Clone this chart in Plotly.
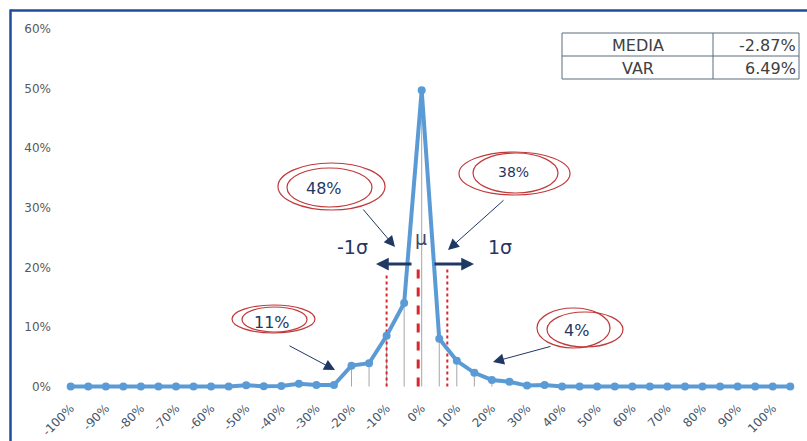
import plotly.graph_objects as go

# Return buckets (%) and share of observations in each bucket (%)
buckets = [-100, -95, -90, -85, -80, -75, -70, -65, -60, -55,
           -50, -45, -40, -35, -30, -25, -20, -15, -10, -5,
           0,
           5, 10, 15, 20, 25, 30, 35,
           40, 45, 50, 55, 60, 65, 70, 75, 80, 85, 90, 95, 100, 105]
share = [0, 0, 0, 0, 0, 0, 0, 0, 0, 0,
         0.2, 0.05, 0.1, 0.45, 0.25, 0.25, 3.5, 3.9, 8.5, 14.0,
         49.7,
         8.0, 4.3, 2.3, 1.1, 0.8, 0.15, 0.25,
         0, 0, 0, 0, 0, 0, 0, 0, 0, 0, 0, 0, 0, 0]

x_ticks = [-100, -90, -80, -70, -60, -50, -40, -30, -20, -10,
           0, 10, 20, 30, 40, 50, 60, 70, 80, 90, 100]
y_ticks = [0, 10, 20, 30, 40, 50, 60]

# Buckets around the centre that get a vertical drop line
drop_buckets = [-20, -15, -10, -5, 0, 5, 10, 15, 20]

# Reference lines: mean and one-sigma bounds
mu_x, mu_top = -1.0, 20.8
sig_lo_x, sig_lo_top = -10.0, 19.0
sig_hi_x, sig_hi_top = 7.3, 19.8

stats_labels = ["MEDIA", "VAR"]
stats_values = ["-2.87%", "6.49%"]

W, H = 807, 441
ML, MR, MT, MB = 55, 6, 17, 43
PW, PH = W - ML - MR, H - MT - MB
X_RANGE = [-104.47, 108.06]
Y_RANGE = [-1.93, 62.0]


def px_x(p):
    return (p - ML) / PW


def px_y(p):
    return (H - MB - p) / PH


def dx(p):
    return X_RANGE[0] + (p - ML) / PW * (X_RANGE[1] - X_RANGE[0])


def dy(p):
    return Y_RANGE[1] - (p - MT) / PH * (Y_RANGE[1] - Y_RANGE[0])


BLUE = "#5b9bd5"
NAVY = "#1f3864"
RED = "#d9262c"
ELL = "#c0393b"
FONT = "DejaVu Sans"

fig = go.Figure()

# thin grey drop lines from the central points to the axis
lookup = dict(zip(buckets, share))
dl_x, dl_y = [], []
for b in drop_buckets:
    dl_x += [b, b, None]
    dl_y += [0, lookup[b], None]
fig.add_trace(go.Scatter(x=dl_x, y=dl_y, mode="lines",
                         line=dict(color="#a6a6a6", width=1),
                         hoverinfo="skip", showlegend=False))

# mean (dashed) and sigma bounds (dotted)
fig.add_trace(go.Scatter(x=[mu_x, mu_x], y=[0, mu_top], mode="lines",
                         line=dict(color=RED, width=3, dash="dash"),
                         hoverinfo="skip", showlegend=False))
for sx, st in [(sig_lo_x, sig_lo_top), (sig_hi_x, sig_hi_top)]:
    fig.add_trace(go.Scatter(x=[sx, sx], y=[0, st], mode="lines",
                             line=dict(color=RED, width=2, dash="dot"),
                             hoverinfo="skip", showlegend=False))

# distribution line
fig.add_trace(go.Scatter(x=buckets, y=share, mode="lines+markers",
                         line=dict(color=BLUE, width=4),
                         marker=dict(color=BLUE, size=8),
                         showlegend=False))

shapes = []
annotations = []

# frame on the top and left edges
shapes.append(dict(type="line", xref="paper", yref="paper",
                   x0=px_x(10), x1=px_x(W + 2), y0=px_y(10.5), y1=px_y(10.5),
                   line=dict(color="#1f4e99", width=2.5)))
shapes.append(dict(type="line", xref="paper", yref="paper",
                   x0=px_x(10.5), x1=px_x(10.5), y0=px_y(9.5), y1=px_y(H + 2),
                   line=dict(color="#1f4e99", width=2.5)))

# stats table
tb_l, tb_m, tb_r = 562, 713, 799
tb_rows = [33, 56, 79]
shapes.append(dict(type="rect", xref="paper", yref="paper",
                   x0=px_x(tb_l), x1=px_x(tb_r), y0=px_y(tb_rows[0]), y1=px_y(tb_rows[-1]),
                   line=dict(color="#5a6b7e", width=1)))
shapes.append(dict(type="line", xref="paper", yref="paper",
                   x0=px_x(tb_l), x1=px_x(tb_r), y0=px_y(tb_rows[1]), y1=px_y(tb_rows[1]),
                   line=dict(color="#5a6b7e", width=1)))
shapes.append(dict(type="line", xref="paper", yref="paper",
                   x0=px_x(tb_m), x1=px_x(tb_m), y0=px_y(tb_rows[0]), y1=px_y(tb_rows[-1]),
                   line=dict(color="#5a6b7e", width=1)))
for i, (lab, val) in enumerate(zip(stats_labels, stats_values)):
    yc = px_y((tb_rows[i] + tb_rows[i + 1]) / 2 + 0.5)
    annotations.append(dict(xref="paper", yref="paper", x=px_x((tb_l + tb_m) / 2), y=yc,
                            text=lab, showarrow=False, xanchor="center", yanchor="middle",
                            font=dict(family=FONT, size=16, color="#404040")))
    annotations.append(dict(xref="paper", yref="paper", x=px_x(tb_r - 1), y=yc,
                            text=val, showarrow=False, xanchor="right", yanchor="middle",
                            font=dict(family=FONT, size=16, color="#404040")))

# callout ellipses (two offset rings each), with label and pointer arrow
callouts = [
    # text, text pos, ring 1 box, ring 2 box, arrow tail, arrow head, font size
    ("48%", (324, 188), (278, 385, 163, 210), (287, 372, 168, 207), (362, 208), (395, 247), 16),
    ("38%", (513, 172), (459, 570, 152, 195), (473, 558, 153, 193), (505, 199), (448, 250), 14),
    ("11%", (272, 322), (232, 315, 305, 333), (242, 307, 307, 332), (288, 345), (335, 370), 16),
    ("4%", (576, 330), (537, 610, 308, 348), (547, 623, 312, 347), (552, 346), (493, 362), 16),
]
for text, (tx, ty), r1, r2, tail, head, fs in callouts:
    for (x0, x1, y0, y1) in (r1, r2):
        shapes.append(dict(type="circle", xref="paper", yref="paper",
                           x0=px_x(x0), x1=px_x(x1), y0=px_y(y1), y1=px_y(y0),
                           line=dict(color=ELL, width=1.2)))
    annotations.append(dict(xref="paper", yref="paper", x=px_x(tx), y=px_y(ty),
                            text=text, showarrow=False, xanchor="center", yanchor="middle",
                            font=dict(family=FONT, size=fs, color=NAVY)))
    annotations.append(dict(xref="x", yref="y", axref="x", ayref="y",
                            x=dx(head[0]), y=dy(head[1]), ax=dx(tail[0]), ay=dy(tail[1]),
                            text="", showarrow=True, arrowhead=2, arrowsize=2.2,
                            arrowwidth=1, arrowcolor=NAVY))

# thick horizontal sigma arrows
for tail, head in [((413, 264), (376, 264)), ((433, 264), (474, 264))]:
    annotations.append(dict(xref="x", yref="y", axref="x", ayref="y",
                            x=dx(head[0]), y=dy(head[1]), ax=dx(tail[0]), ay=dy(tail[1]),
                            text="", showarrow=True, arrowhead=2, arrowsize=0.85,
                            arrowwidth=3, arrowcolor=NAVY))

annotations.append(dict(xref="paper", yref="paper", x=px_x(352), y=px_y(247),
                        text="-1σ", showarrow=False, xanchor="center", yanchor="middle",
                        font=dict(family=FONT, size=19, color=NAVY)))
annotations.append(dict(xref="paper", yref="paper", x=px_x(500), y=px_y(247),
                        text="1σ", showarrow=False, xanchor="center", yanchor="middle",
                        font=dict(family=FONT, size=19, color=NAVY)))
annotations.append(dict(xref="paper", yref="paper", x=px_x(421), y=px_y(238),
                        text="μ", showarrow=False, xanchor="center", yanchor="middle",
                        font=dict(family=FONT, size=19, color="#3b4a63")))

fig.update_layout(
    width=W, height=H,
    margin=dict(l=ML, r=MR, t=MT, b=MB, pad=0, autoexpand=False),
    paper_bgcolor="white", plot_bgcolor="white",
    shapes=shapes, annotations=annotations,
    xaxis=dict(range=X_RANGE, tickvals=x_ticks, ticktext=[f"{v}%" for v in x_ticks],
               tickangle=-45, showgrid=False, zeroline=False, showline=False,
               automargin=False,
               ticks="", tickfont=dict(family=FONT, size=12, color="#44546a")),
    yaxis=dict(range=Y_RANGE, tickvals=y_ticks, ticktext=[f"{v}%" for v in y_ticks],
               showgrid=False, zeroline=False, showline=False, ticks="",
               automargin=False, ticklabelstandoff=3,
               tickfont=dict(family=FONT, size=12, color="#595959")),
)

fig.write_html("out.html")
